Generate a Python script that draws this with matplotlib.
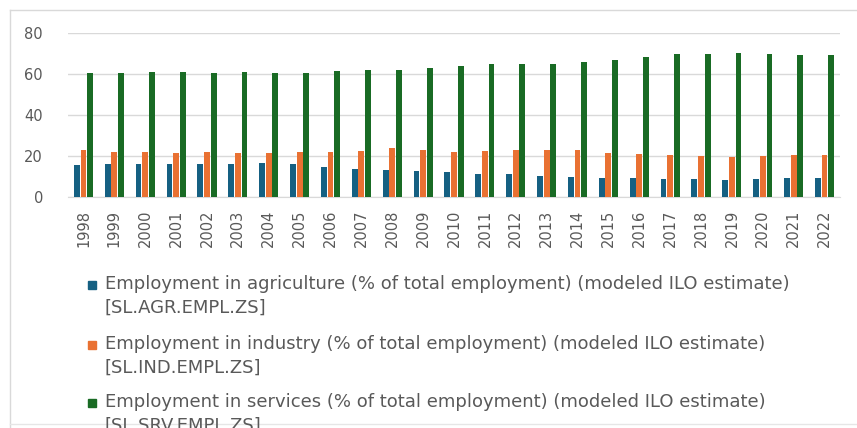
import matplotlib
matplotlib.use("Agg")
import matplotlib.pyplot as plt
from matplotlib.patches import Rectangle
from matplotlib.lines import Line2D
import numpy as np

years = [str(y) for y in range(1998, 2023)]
agriculture = [15.6, 16.1, 16.1, 16.1, 16.1, 16.1, 16.6, 16.1, 14.9, 13.8, 13.3, 12.8,
               12.2, 11.5, 11.2, 10.5, 10.0, 9.3, 9.3, 8.9, 8.9, 8.3, 8.9, 9.3, 9.3]
industry = [23.0, 22.2, 22.2, 21.5, 22.2, 21.5, 21.5, 22.2, 22.2, 22.7, 23.9, 23.0,
            22.2, 22.5, 23.0, 23.0, 23.0, 21.8, 21.1, 20.5, 20.1, 19.8, 20.1, 20.6, 20.6]
services = [60.6, 60.6, 61.3, 61.3, 60.6, 61.3, 60.6, 60.6, 61.6, 62.3, 62.3, 63.3,
            63.9, 65.2, 65.2, 65.2, 66.0, 67.2, 68.4, 69.8, 70.1, 70.6, 70.1, 69.3, 69.3]
series_names = [
    "Employment in agriculture (% of total employment) (modeled ILO estimate)\n[SL.AGR.EMPL.ZS]",
    "Employment in industry (% of total employment) (modeled ILO estimate)\n[SL.IND.EMPL.ZS]",
    "Employment in services (% of total employment) (modeled ILO estimate)\n[SL.SRV.EMPL.ZS]",
]
colors = ["#156082", "#E97132", "#196B24"]
text_gray = "#595959"

W, H = 857, 428
fig = plt.figure(figsize=(W / 100, H / 100), dpi=100)
fig.patch.set_facecolor("white")

# chart border (left, top, bottom edges visible)
fig.add_artist(Line2D([10 / W, 10 / W], [1 - 10 / H, 0], transform=fig.transFigure,
                      color="#d9d9d9", lw=1))
fig.add_artist(Line2D([10 / W, 1], [1 - 10 / H, 1 - 10 / H], transform=fig.transFigure,
                      color="#d9d9d9", lw=1))
fig.add_artist(Line2D([10 / W, 1], [4 / H, 4 / H], transform=fig.transFigure,
                      color="#e6e6e6", lw=1))

ax = fig.add_axes([68 / W, (H - 197.3) / H, (840 - 68) / W, (197.3 - 33.3) / H])
x = np.arange(len(years))
bw = 0.19
for i, (vals, c) in enumerate(zip([agriculture, industry, services], colors)):
    ax.bar(x + (i - 1) * 0.215, vals, width=bw, color=c, zorder=3)

ax.set_xlim(-0.5, len(years) - 0.5)
ax.set_ylim(0, 80)
ax.set_yticks([0, 20, 40, 60, 80])
ax.yaxis.grid(True, color="#d9d9d9", lw=1)
ax.set_axisbelow(True)
for s in ax.spines.values():
    s.set_visible(False)
ax.spines["bottom"].set_visible(True)
ax.spines["bottom"].set_color("#d9d9d9")
ax.set_xticks(x)
ax.set_xticklabels(years, rotation=90)
ax.tick_params(axis="both", length=0, colors=text_gray, labelsize=10.5)
ax.tick_params(axis="y", pad=18)
ax.tick_params(axis="x", pad=9)

# legend below the chart
rows = [285, 345, 403]
for name, c, yrow in zip(series_names, colors, rows):
    fig.add_artist(Rectangle((88 / W, (H - yrow - 4) / H), 8 / W, 8 / H,
                             transform=fig.transFigure, color=c))
    fig.text(105 / W, (H - yrow + 10) / H, name, color=text_gray, fontsize=13,
             va="top", ha="left", linespacing=1.4)

fig.savefig("out.png", dpi=100)
